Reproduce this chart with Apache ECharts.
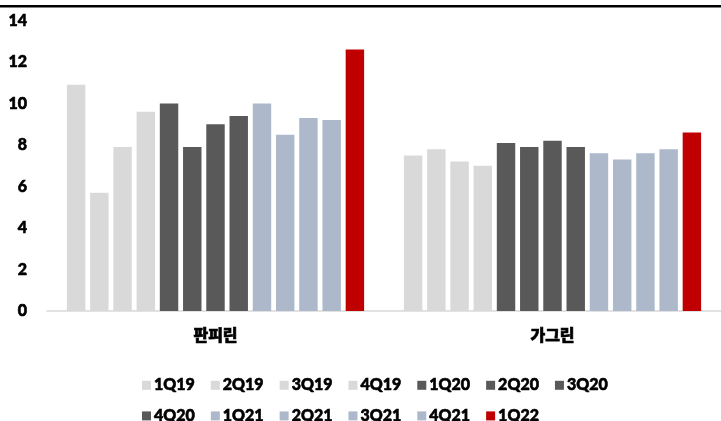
<!DOCTYPE html>
<html>
<head>
<meta charset="utf-8">
<script src="https://cdn.jsdelivr.net/npm/echarts@6/dist/echarts.min.js"></script>
<style>
  html, body { margin: 0; padding: 0; background: #fff; }
  #chart { width: 721px; height: 421px; }
</style>
</head>
<body>
<div id="chart"></div>
<script>
// Products on the x axis
const categories = ['판피린', '가그린'];

// Quarter series names
const quarters = ['1Q19', '2Q19', '3Q19', '4Q19', '1Q20', '2Q20', '3Q20',
                  '4Q20', '1Q21', '2Q21', '3Q21', '4Q21', '1Q22'];

// Values per quarter: [판피린, 가그린]
const values = [
  [10.9, 7.5],
  [5.7, 7.8],
  [7.9, 7.2],
  [9.6, 7.0],
  [10.0, 8.1],
  [7.9, 7.9],
  [9.0, 8.2],
  [9.4, 7.9],
  [10.0, 7.6],
  [8.5, 7.3],
  [9.3, 7.6],
  [9.2, 7.8],
  [12.6, 8.6]
];

// Y axis ticks
const yMin = 0, yMax = 14, yStep = 2;

// Colour by year group
const colors = ['#D9D9D9', '#D9D9D9', '#D9D9D9', '#D9D9D9',
                '#595959', '#595959', '#595959', '#595959',
                '#ADB9CA', '#ADB9CA', '#ADB9CA', '#ADB9CA',
                '#C00000'];

const FONT = 'Lato, "Noto Sans CJK KR", sans-serif';

// Heavy black label style (thin stroke thickens the bold face)
const heavyText = {
  color: '#000', fontSize: 16, fontWeight: 900, fontFamily: FONT,
  textBorderColor: '#000', textBorderWidth: 0.6
};

const chart = echarts.init(document.getElementById('chart'), null, { renderer: 'canvas' });

const series = quarters.map((q, i) => ({
  name: q,
  type: 'bar',
  data: values[i],
  barGap: '26%',
  barCategoryGap: '11.8%',
  itemStyle: { color: colors[i] }
}));

chart.setOption({
  animation: false,
  backgroundColor: '#fff',
  color: colors,
  grid: { left: 47, width: 678, top: 20.5, bottom: 110 },
  xAxis: {
    type: 'category',
    data: categories,
    axisLine: { lineStyle: { color: '#D9D9D9', width: 1.5 } },
    axisTick: { show: false },
    axisLabel: Object.assign({ margin: 17 }, heavyText)
  },
  yAxis: {
    type: 'value',
    min: yMin, max: yMax, interval: yStep,
    splitLine: { show: false },
    axisLine: { show: false },
    axisTick: { show: false },
    axisLabel: Object.assign({ margin: 20 }, heavyText)
  },
  legend: {
    data: quarters,
    left: 137, top: 372, width: 500,
    orient: 'horizontal',
    itemWidth: 9, itemHeight: 9,
    itemGap: 14,
    icon: 'rect',
    textStyle: Object.assign({ lineHeight: 12, padding: [0, 2, 0, -2] }, heavyText)
  },
  graphic: [{
    type: 'line',
    shape: { x1: 0, y1: 6.2, x2: 721, y2: 6.2 },
    style: { stroke: '#000', lineWidth: 2.4 }
  }],
  series: series
});
</script>
</body>
</html>
